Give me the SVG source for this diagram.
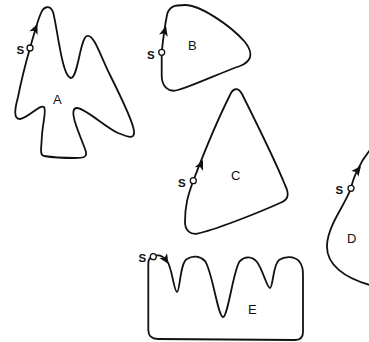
<svg xmlns="http://www.w3.org/2000/svg" xmlns:xlink="http://www.w3.org/1999/xlink" width="369" height="342" viewBox="0 0 369 342">
<style>
.c{fill:none;stroke:#111;stroke-width:1.8;stroke-linejoin:round;stroke-linecap:round}
.o{fill:#fff;stroke:#111;stroke-width:1.3}
.s{font-family:"Liberation Sans",Arial,sans-serif;font-size:11.5px;font-weight:bold;fill:#111}
.l{font-family:"Liberation Sans",Arial,sans-serif;font-size:13px;fill:#111}
</style>
<defs>
<path id="ah" d="M0,0 L-10,-4.5 L-7.5,0 L-10,4.5 Z" fill="#111"/>
</defs>
<rect width="369" height="342" fill="#fff"/>
<g id="A">
<path class="c" d="M30,48 C33,38 37,22 41,13 C44,6 50,5 53,12 C57,25 62,78 71,78 C78,78 80,38 87,36 C94,34 100,55 110,75 C120,95 133,122 134,131 C135,140 128,137 118,133 C105,127 85,108 77,108 C72,108 73,115 75,122 C78,132 85,148 86,152 C87,158 82,158 75,158 C65,158 50,157 44,156 C40,155 41,150 41.7,140 C42,125 47,110 44,107 C40,104 28,118 20,119 C13,119 15,108 18,97 C21,82 26,62 30,48 Z"/>
<use xlink:href="#ah" transform="translate(37.5,24) rotate(-66)"/>
<circle class="o" cx="30" cy="48" r="3"/>
<text class="s" x="16.5" y="54">S</text>
<text class="l" x="53" y="104">A</text>
</g>
<g id="B">
<path class="c" d="M161.7,52.3 C163,40 165,25 167,15 C169,6 175,5 185,5 C200,5 230,25 245,42 C255,55 250,62 240,66 C220,73 195,85 178,90 C168,93 162,86 161.7,76 Z"/>
<use xlink:href="#ah" transform="translate(166,26) rotate(-75)"/>
<circle class="o" cx="161.7" cy="52.3" r="3"/>
<text class="s" x="147" y="59">S</text>
<text class="l" x="188" y="50">B</text>
</g>
<g id="C">
<path class="c" d="M193.3,180.7 C205,150 220,115 230,95 C233,88 238,87 242,94 C255,120 275,160 285,185 C290,195 288,200 280,203 C260,212 220,228 200,233 C190,236 185,230 185,222 C185,205 188,195 193.3,180.7 Z"/>
<use xlink:href="#ah" transform="translate(203,160) rotate(-66)"/>
<circle class="o" cx="193.3" cy="180.7" r="3"/>
<text class="s" x="178" y="187">S</text>
<text class="l" x="231" y="180">C</text>
</g>
<g id="D">
<path class="c" d="M351,188.3 C353,178 360,162 370,150 M351,188.3 C345,205 328,225 327,245 C326,265 345,278 370,285"/>
<use xlink:href="#ah" transform="translate(361,166) rotate(-52)"/>
<circle class="o" cx="351" cy="188.3" r="3"/>
<text class="s" x="335.5" y="194">S</text>
<text class="l" x="347" y="243">D</text>
</g>
<g id="E">
<path class="c" d="M153.3,256.7 C158,254 163,256 167,261 C172,267 174,292 177,292 C180,292 180,262 187,259 C193,255 200,256 205,261 C212,270 218,317 223,317 C228,317 234,266 240,261 C245,256 252,256 257,262 C263,270 267,288 270,288 C273,288 273,264 279,260 C285,256 294,256 299,261 C303,266 303,270 303,278 L303,332 C303,338 300,340 295,340 L158,339 C152,339 148.3,336 148.3,330 L148.3,264 C148.3,259 150,257 153.3,256.7"/>
<use xlink:href="#ah" transform="translate(168.5,264) rotate(58)"/>
<circle class="o" cx="153.3" cy="256.7" r="3"/>
<text class="s" x="138.5" y="262">S</text>
<text class="l" x="248" y="314">E</text>
</g>
</svg>
